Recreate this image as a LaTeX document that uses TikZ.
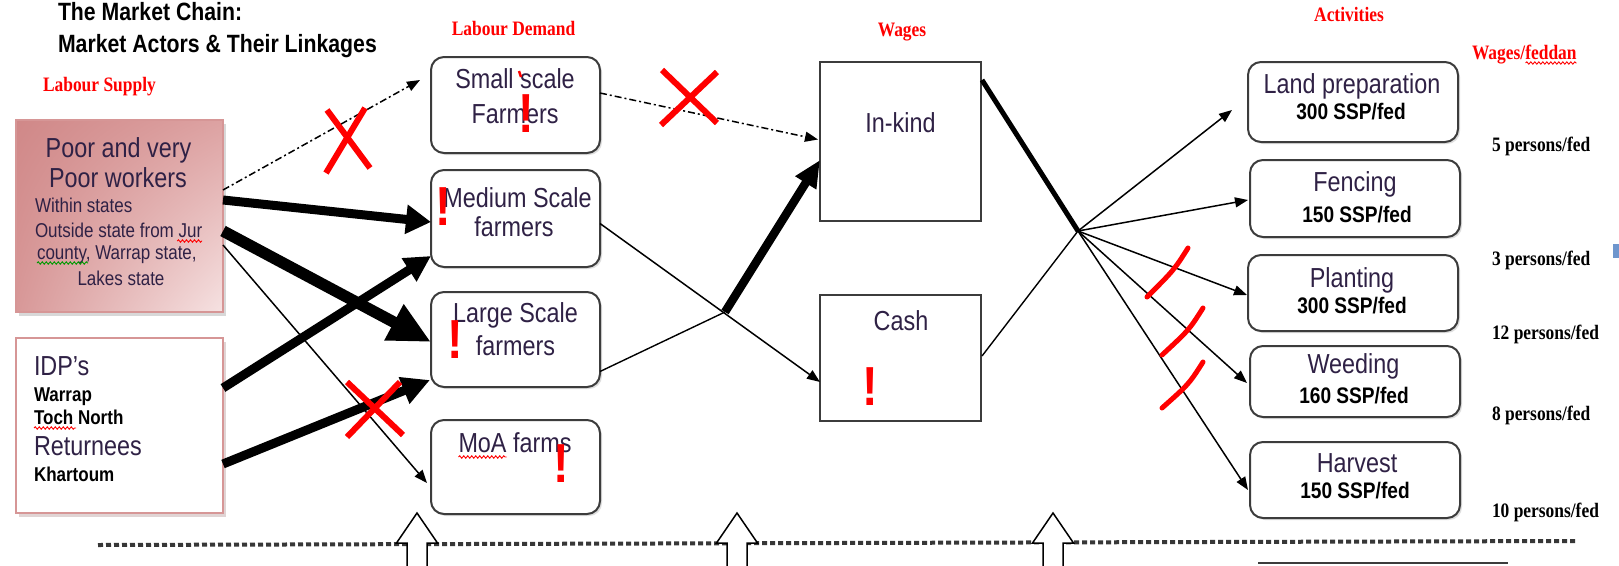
\documentclass[tikz,border=0pt]{standalone}
\usepackage{fontspec}
\setmainfont{Liberation Sans}[FakeStretch=0.85]
\newfontfamily\serfont{Liberation Serif}[FakeStretch=0.85]
\usetikzlibrary{arrows.meta,calc,shadows,shadings,decorations.pathmorphing}

\definecolor{ink}{RGB}{47,33,69}
\definecolor{boxgray}{RGB}{60,60,60}
\definecolor{pinkedge}{RGB}{214,150,150}
\definecolor{pinkUL}{RGB}{208,136,136}
\definecolor{pinkUR}{RGB}{221,162,162}
\definecolor{pinkLL}{RGB}{216,152,152}
\definecolor{pinkLR}{RGB}{246,226,226}
\definecolor{bluesq}{RGB}{110,150,205}
\definecolor{dashgray}{RGB}{55,55,55}

\newcommand\fsbig{\fontsize{27.5}{30}\selectfont}
\newcommand\fssmall{\fontsize{20}{22}\selectfont}
\newcommand\fsbold{\bfseries\fontsize{22.5}{25}\selectfont}
\newcommand\fsboldsm{\bfseries\fontsize{20}{22}\selectfont}
\newcommand\fslab{\serfont\bfseries\fontsize{20.5}{22}\selectfont}
\newcommand\fstitle{\bfseries\fontsize{25}{28}\selectfont}
\newcommand\fsbang{\bfseries\fontsize{55}{60}\selectfont}

\begin{document}
\begin{tikzpicture}[x=1pt,y=-1pt,
  txt/.style={inner sep=0pt,outer sep=0pt,anchor=base,text=ink,font=\fsbig},
  txtw/.style={txt,anchor=base west},
  bld/.style={inner sep=0pt,outer sep=0pt,anchor=base,text=black,font=\fsbold},
  bldw/.style={inner sep=0pt,outer sep=0pt,anchor=base west,text=black,font=\fsboldsm},
  sml/.style={inner sep=0pt,outer sep=0pt,anchor=base west,text=ink,font=\fssmall},
  smlc/.style={sml,anchor=base},
  redlab/.style={inner sep=0pt,outer sep=0pt,anchor=base,text=red,font=\fslab},
  perlab/.style={inner sep=0pt,outer sep=0pt,anchor=base west,text=black,font=\fslab},
  ttl/.style={inner sep=0pt,outer sep=0pt,anchor=base west,text=black,font=\fstitle},
  bang/.style={inner sep=0pt,outer sep=0pt,anchor=base,text=red,font=\fsbang},
  rbox/.style={draw=boxgray,line width=2pt,rounded corners=13pt,fill=white,inner sep=0pt,outer sep=0pt,
    drop shadow={shadow xshift=2pt,shadow yshift=-2pt,fill=black!25}},
  sqbox/.style={draw=boxgray,line width=2.2pt,fill=white,inner sep=0pt,outer sep=0pt},
  poorbox/.style={draw=pinkedge,line width=1.5pt,inner sep=0pt,outer sep=0pt,
    upper left=pinkUL,upper right=pinkUR,lower left=pinkLL,lower right=pinkLR,
    drop shadow={shadow xshift=3pt,shadow yshift=-4pt,fill=black!30}},
  idpbox/.style={draw=pinkedge,line width=1.5pt,fill=white,inner sep=0pt,outer sep=0pt,
    drop shadow={shadow xshift=3pt,shadow yshift=-4pt,fill=pinkUR!70!black!60}},
  thin/.style={line width=1.5pt,-{Triangle[length=13pt,width=10pt]}},
  thinline/.style={line width=1.4pt},
  dd/.style={line width=1.5pt,dash pattern=on 7pt off 3pt on 2pt off 3pt,-{Triangle[length=13pt,width=10pt]}},
  thick/.style={line width=9pt,-{Triangle[length=25pt,width=27pt]}},
  thicker/.style={line width=11.5pt,-{Triangle[length=42pt,width=38pt]}},
  redx/.style={draw=red,line width=6pt},
  slash/.style={draw=red,line width=5pt,line cap=round},
  squig/.style={decorate,decoration={snake,amplitude=1.2pt,segment length=4pt},line width=0.9pt}
]
\useasboundingbox (0,0) rectangle (1619,565);
\fill[white] (0,0) rectangle (1619,565);

% ---------- title and column labels ----------
\node[ttl] (t1) at (58,20) {The Market Chain:};
\node[ttl] (t2) at (58,52) {Market Actors \& Their Linkages};
\node[redlab,anchor=base west] (lsup) at (43,91) {Labour Supply};
\node[redlab] (ldem) at (513.5,35) {Labour Demand};
\node[redlab] (lwag) at (902,36) {Wages};
\node[redlab] (lact) at (1349,21) {Activities};
\node[redlab,anchor=base west] (lwf) at (1472,59) {Wages/feddan};
\draw[squig,red] ($(lwf.base east)+(-51,4)$) -- ($(lwf.base east)+(0,4)$);

% ---------- supply boxes ----------
\node[poorbox,minimum width=207,minimum height=192] (poor) at (119.5,216) {};
\node[txt] (p1) at (118.5,157) {Poor and very};
\node[txt] (p2) at (118,187) {Poor workers};
\node[sml] (p3) at (35,212) {Within states};
\node[sml] (p4) at (35,237) {Outside state from Jur};
\node[sml] (p5) at (37,259) {county, Warrap state,};
\node[smlc] (p6) at (121,285) {Lakes state};
\draw[squig,red] ($(p4.base east)+(-25,4)$) -- ($(p4.base east)+(0,4)$);
\draw[squig,green!60!black] ($(p5.base west)+(0,4)$) -- ($(p5.base west)+(51,4)$);

\node[idpbox,minimum width=207,minimum height=175] (idp) at (119.5,425.5) {};
\node[txtw] (i1) at (34,375) {IDP’s};
\node[bldw] (i2) at (34,401) {Warrap};
\node[bldw] (i3) at (34,424) {Toch North};
\node[txtw] (i4) at (34,455) {Returnees};
\node[bldw] (i5) at (34,481) {Khartoum};
\draw[squig,red] ($(i3.base west)+(0,4)$) -- ($(i3.base west)+(42,4)$);

% ---------- labour demand boxes ----------
\node[rbox,minimum width=169,minimum height=96] (small) at (515.5,105) {};
\node[rbox,minimum width=169,minimum height=97] (medium) at (515.5,218.5) {};
\node[rbox,minimum width=169,minimum height=95] (large) at (515.5,339.5) {};
\node[rbox,minimum width=169,minimum height=94] (moa) at (515.5,467) {};
\node[txt] (s1) at (515,88) {Small scale};
\node[txt] (s2) at (515,123) {Farmers};
\node[txt] (m1) at (517.5,207) {Medium Scale};
\node[txt] (m2) at (514,236) {farmers};
\node[txt] (l1) at (515.5,322) {Large Scale};
\node[txt] (l2) at (515.5,355) {farmers};
\node[txt] (o1) at (515,452) {MoA farms};
\draw[squig,red] ($(o1.base west)+(0,5)$) -- ($(o1.base west)+(48,5)$);

% ---------- wages boxes ----------
\node[sqbox,minimum width=161,minimum height=159] (inkind) at (900.5,141.5) {};
\node[sqbox,minimum width=161,minimum height=126] (cash) at (900.5,358) {};
\node[txt] (w1) at (900.5,132) {In-kind};
\node[txt] (w2) at (901,330) {Cash};

% ---------- activity boxes ----------
\node[rbox,minimum width=210,minimum height=80] (land) at (1353,102) {};
\node[rbox,minimum width=210,minimum height=77] (fencing) at (1355,198.5) {};
\node[rbox,minimum width=210,minimum height=76] (planting) at (1353,293) {};
\node[rbox,minimum width=210,minimum height=71] (weeding) at (1355,381.5) {};
\node[rbox,minimum width=210,minimum height=76] (harvest) at (1355,480) {};
\node[txt] (a1) at (1352,93) {Land preparation};
\node[bld] (a1b) at (1351,119) {300 SSP/fed};
\node[txt] (a2) at (1355,191) {Fencing};
\node[bld] (a2b) at (1357,222) {150 SSP/fed};
\node[txt] (a3) at (1352,287) {Planting};
\node[bld] (a3b) at (1352,313) {300 SSP/fed};
\node[txt] (a4) at (1353.5,373) {Weeding};
\node[bld] (a4b) at (1354,403) {160 SSP/fed};
\node[txt] (a5) at (1357,472) {Harvest};
\node[bld] (a5b) at (1355,498) {150 SSP/fed};

% ---------- persons per feddan ----------
\node[perlab] (q1) at (1492,151) {5 persons/fed};
\node[perlab] (q2) at (1492,265) {3 persons/fed};
\node[perlab] (q3) at (1492,339) {12 persons/fed};
\node[perlab] (q4) at (1492,420) {8 persons/fed};
\node[perlab] (q5) at (1492,517) {10 persons/fed};
\fill[bluesq] (1613,244) rectangle (1619,258);

% ---------- junctions ----------
\coordinate (j1) at (725,312);
\coordinate (j2) at (1078,231);

% ---------- connectors: supply -> demand ----------
\draw[dd] ($(poor.north east)+(0,70)$) -- ($(small.west)+(-11,-25)$);
\draw[thick,-{Triangle[length=25pt,width=28pt]}] ($(poor.north east)+(0,80)$) -- ($(medium.west)+(0,3.5)$);
\draw[thicker] ($(poor.north east)+(0,111)$) -- ($(large.west)+(0,2.5)$);
\draw[thin] ($(poor.north east)+(0,125)$) -- ($(moa.west)+(-4,16)$);
\draw[thick,-{Triangle[length=26pt,width=26pt]}] ($(idp.north east)+(0,50)$) -- ($(medium.south west)+(0,-11)$);
\draw[thick,-{Triangle[length=28pt,width=27pt]}] ($(idp.north east)+(0,126)$) -- ($(large.south west)+(-1,-7)$);

% ---------- connectors: demand -> wages ----------
\draw[dd] ($(small.east)+(0,-12)$) -- ($(inkind.west)+(-2,-2)$);
\draw[thin] ($(medium.east)+(0,5)$) -- ($(cash.west)+(0,24)$);
\draw[thinline] ($(large.east)+(0,32)$) -- (j1);
\draw[line width=8.5pt,-{Triangle[length=27pt,width=23pt]}] (j1) -- ($(inkind.west)+(0,18.5)$);

% ---------- connectors: wages -> activities ----------
\draw[line width=5pt] ($(inkind.north east)+(1,18)$) -- (j2);
\draw[thinline] ($(cash.east)+(1,-2)$) -- (j2);
\draw[thin] (j2) -- ($(land.west)+(-16,8)$);
\draw[thin] (j2) -- ($(fencing.west)+(-2,1.5)$);
\draw[thin] (j2) -- ($(planting.west)+(-1,2)$);
\draw[thin] (j2) -- ($(weeding.west)+(-3,1.5)$);
\draw[thin] (j2) -- ($(harvest.west)+(-2,10)$);

% ---------- red marks ----------
\draw[redx] (327,110) -- (370,168) (365,108) -- (326,173);
\draw[redx] (347,382) -- (403,435) (400,382) -- (347,437);
\draw[redx] (662,70) -- (717,123) (717,72) -- (661,125);
\draw[slash] (1188,248) .. controls (1174,270) .. (1147,297);
\draw[slash] (1203,308) .. controls (1189,330) .. (1162,355);
\draw[slash] (1203,362) .. controls (1189,384) .. (1162,408);
\draw[red,line width=2.5pt] (519,71) -- (521,77);
\node[bang] (x1) at (526,132) {!};
\node[bang] (x2) at (443,225) {!};
\node[bang] (x3) at (455,358) {!};
\node[bang] (x4) at (561,482) {!};
\node[bang] (x5) at (870,405) {!};

% ---------- bottom ----------
\draw[line width=4pt,dash pattern=on 5pt off 3pt,draw=dashgray] (98,545) -- (1575,541);
\foreach \c in {417,737,1053} {
  \filldraw[fill=white,draw=black,line width=1.5pt]
    (\c-10,568) -- (\c-10,543) -- (\c-20.5,543) -- (\c,513) -- (\c+20.5,543) -- (\c+10,543) -- (\c+10,568);
}
\draw[line width=2pt,draw=boxgray] (1258,563) -- (1508,563);
\end{tikzpicture}
\end{document}
